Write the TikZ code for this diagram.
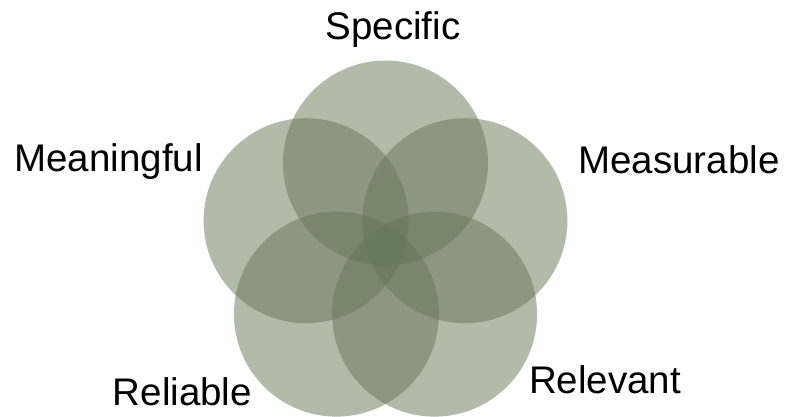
\documentclass[tikz,border=0pt]{standalone}
\usepackage{fontspec}
\setmainfont{Liberation Sans}
\usetikzlibrary{calc}
\definecolor{petal}{RGB}{101,117,86}
\begin{document}
\begin{tikzpicture}[x=1pt,y=-1pt,
  petalc/.style={circle,minimum size=205pt,inner sep=0pt,fill=petal,fill opacity=0.5,draw=none},
  lbl/.style={anchor=base,font=\fontsize{38.5}{40}\selectfont,text=black,inner sep=0pt}]
\useasboundingbox (0,0) rectangle (788,416);
\coordinate (ctr) at (385.5,246.5);
\node[petalc] (c1) at ($(ctr)+(0,-83.5)$) {};
\node[petalc] (c2) at ($(ctr)+(-79.4,-25.8)$) {};
\node[petalc] (c3) at ($(ctr)+(79.4,-25.8)$) {};
\node[petalc] (c4) at ($(ctr)+(-49.1,67.6)$) {};
\node[petalc] (c5) at ($(ctr)+(49.1,67.6)$) {};
\node[lbl] (spec) at (393,39) {Specific};
\node[lbl] (mean) at (108.6,171) {Meaningful};
\node[lbl] (meas) at (679,173) {Measurable};
\node[lbl] (reli) at (182.4,405) {Reliable};
\node[lbl] (rele) at (605,393) {Relevant};
\end{tikzpicture}
\end{document}
